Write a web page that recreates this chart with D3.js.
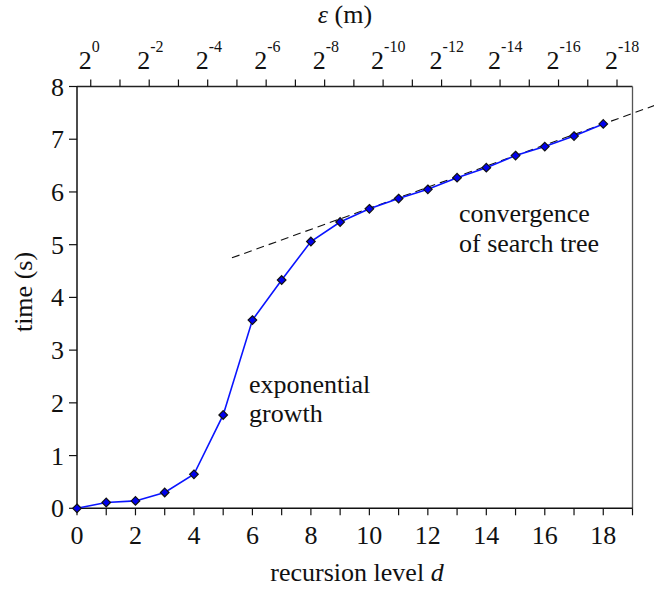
<!DOCTYPE html>
<html>
<head>
<meta charset="utf-8">
<script src="https://cdn.jsdelivr.net/npm/d3@7"></script>
<style>
  html, body { margin: 0; padding: 0; background: #fff; }
  svg { display: block; }
</style>
</head>
<body>
<svg id="chart" width="654" height="590"></svg>
<script>
// Recursion level and measured run time
const levels = [0, 1, 2, 3, 4, 5, 6, 7, 8, 9, 10, 11, 12, 13, 14, 15, 16, 17, 18];
const times = [0, 0.11, 0.14, 0.30, 0.645, 1.77, 3.57, 4.33, 5.06, 5.43, 5.68, 5.875, 6.05, 6.27, 6.46, 6.69, 6.86, 7.06, 7.29];

// Linear trend of the converged part
const trendLevels = [5.3, 20];
const trendTimes = [4.75, 7.69];

// Axis ticks
const bottomTicks = d3.range(0, 20);          // 0..19, labels on even values
const leftTicks = d3.range(0, 9);             // 0..8
const epsExponents = d3.range(0, 19);         // ε = 2^-k, k = 0..18, labels on even k
const epsOffset = 0.47;                       // ε tick k sits at level k + offset

const svg = d3.select("#chart");
const plotL = 77, plotR = 632.5, plotT = 86.5, plotB = 508.3;

const x = d3.scaleLinear().domain([0, 19]).range([plotL, plotR]);
const y = d3.scaleLinear().domain([0, 8]).range([plotB, plotT]);
const xEps = d3.scaleLinear().domain([-epsOffset, 19 - epsOffset]).range([plotL, plotR]);

const FS = 26;
const txt = (sel) => sel.attr("font-family", "Liberation Serif").attr("font-size", FS).attr("fill", "#111");

// frame: top and right edges
svg.append("line").attr("x1", plotL).attr("x2", plotR).attr("y1", plotT).attr("y2", plotT)
  .attr("stroke", "#222").attr("stroke-width", 1.3);
svg.append("line").attr("x1", plotR).attr("x2", plotR).attr("y1", plotT).attr("y2", plotB)
  .attr("stroke", "#555").attr("stroke-width", 1.3);

// bottom axis
const gB = svg.append("g");
gB.append("line").attr("x1", plotL).attr("x2", plotR).attr("y1", plotB).attr("y2", plotB)
  .attr("stroke", "#111").attr("stroke-width", 1.5);
gB.selectAll("line.tick").data(bottomTicks).join("line").attr("class", "tick")
  .attr("x1", d => x(d)).attr("x2", d => x(d)).attr("y1", plotB).attr("y2", plotB + 7)
  .attr("stroke", "#111").attr("stroke-width", 1.2);
gB.selectAll("text").data(bottomTicks.filter(d => d % 2 === 0 && d <= 18)).join("text")
  .attr("x", d => x(d)).attr("y", plotB + 36).attr("text-anchor", "middle")
  .call(txt).text(d => d);

// left axis
const gL = svg.append("g");
gL.append("line").attr("x1", plotL).attr("x2", plotL).attr("y1", plotT).attr("y2", plotB)
  .attr("stroke", "#111").attr("stroke-width", 1.5);
gL.selectAll("line.tick").data(leftTicks).join("line").attr("class", "tick")
  .attr("x1", plotL - 8).attr("x2", plotL).attr("y1", d => y(d)).attr("y2", d => y(d))
  .attr("stroke", "#111").attr("stroke-width", 1.2);
gL.selectAll("text").data(leftTicks).join("text")
  .attr("x", plotL - 13).attr("y", d => y(d) + 9).attr("text-anchor", "end")
  .call(txt).text(d => d);

// top axis (ε)
const gT = svg.append("g");
gT.selectAll("line.tick").data(epsExponents).join("line").attr("class", "tick")
  .attr("x1", d => xEps(d)).attr("x2", d => xEps(d)).attr("y1", plotT).attr("y2", plotT - 7)
  .attr("stroke", "#111").attr("stroke-width", 1.2);
const epsLabels = gT.selectAll("text").data(epsExponents.filter(d => d % 2 === 0)).join("text")
  .attr("x", d => xEps(d) - 12).attr("y", plotT - 18).call(txt);
epsLabels.append("tspan").text("2");
epsLabels.append("tspan").attr("font-size", 16).attr("dy", -17).text(d => d === 0 ? "0" : "-" + d);

// axis titles
const eps = svg.append("text").attr("x", 345).attr("y", 23).attr("text-anchor", "middle").call(txt);
eps.append("tspan").attr("font-style", "italic").text("ε");
eps.append("tspan").text(" (m)");

const xt = svg.append("text").attr("x", 357).attr("y", 581).attr("text-anchor", "middle").call(txt);
xt.append("tspan").text("recursion level ");
xt.append("tspan").attr("font-style", "italic").text("d");

svg.append("text").attr("transform", "translate(32,292) rotate(-90)").attr("text-anchor", "middle")
  .call(txt).text("time (s)");

// trend line
svg.append("line")
  .attr("x1", x(trendLevels[0])).attr("y1", y(trendTimes[0]))
  .attr("x2", x(trendLevels[1])).attr("y2", y(trendTimes[1]))
  .attr("stroke", "#111").attr("stroke-width", 1.1).attr("stroke-dasharray", "8,5");

// data line
const pts = levels.map((d, i) => [d, times[i]]);
svg.append("path").datum(pts)
  .attr("d", d3.line().x(d => x(d[0])).y(d => y(d[1])))
  .attr("fill", "none").attr("stroke", "#0a14ff").attr("stroke-width", 1.6);

// diamond markers
const r = 4.3;
svg.selectAll("path.mk").data(pts).join("path").attr("class", "mk")
  .attr("d", d => {
    const cx = x(d[0]), cy = y(d[1]);
    return `M${cx},${cy - r}L${cx + r},${cy}L${cx},${cy + r}L${cx - r},${cy}Z`;
  })
  .attr("fill", "#0000ee").attr("stroke", "#111").attr("stroke-width", 1.2);

// annotations
const ann1 = svg.append("text").call(txt);
ann1.append("tspan").attr("x", 249).attr("y", 393).text("exponential");
ann1.append("tspan").attr("x", 249).attr("y", 422).text("growth");

const ann2 = svg.append("text").call(txt);
ann2.append("tspan").attr("x", 459).attr("y", 222).text("convergence");
ann2.append("tspan").attr("x", 459).attr("y", 252).text("of search tree");
</script>
</body>
</html>
